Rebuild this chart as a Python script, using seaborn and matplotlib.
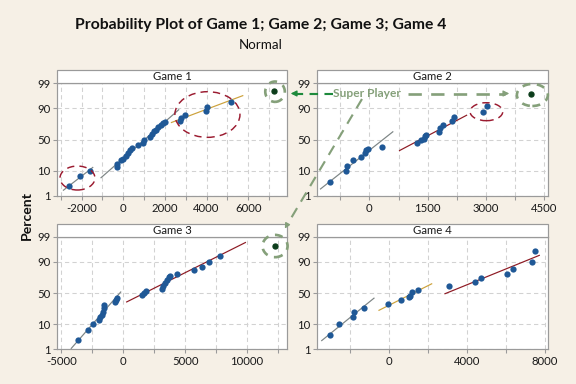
import numpy as np
import pandas as pd
import seaborn as sns
import matplotlib.pyplot as plt
from matplotlib.patches import Ellipse, Rectangle, FancyArrowPatch
from matplotlib.lines import Line2D
from matplotlib.ticker import NullLocator
from statistics import NormalDist

# ---- data (x value, plotted percent) ----
g1_low_x = [-2600, -2100, -1610]
g1_low_pct = [2.7, 6.4, 10.0]
g1_mid_x = [-315, -287, -124, 0, 115, 239, 335, 430, 688, 927, 975,
            1276, 1386, 1482, 1577, 1673, 1802, 1931, 2008]
g1_mid_pct = [13.3, 16.1, 19.6, 21.5, 24.8, 29.4, 33.1, 36.7, 40.3, 44.6, 48.9,
              54.4, 59.2, 63.3, 65.9, 69.2, 72.0, 74.7, 76.5]
g1_high_x = [2710, 2790, 2950, 3987, 4015, 5180]
g1_high_pct = [77.2, 81.2, 84.6, 87.6, 90.9, 94.1]

g2_low_x = [-1016, -589, -573, -420, -205, -120, -77, -36, 323]
g2_low_pct = [3.9, 9.4, 13.8, 19.6, 24.0, 28.4, 32.7, 34.2, 37.7]
g2_high_x = [1219, 1331, 1398, 1434, 1459, 1800, 1818, 1902, 2125, 2171, 2908, 3036]
g2_high_pct = [43.5, 48.4, 51.0, 55.4, 58.0, 62.3, 68.4, 73.0, 77.3, 81.9, 87.1, 91.7]

g3_low_x = [-3675, -2860, -2461, -1998, -1862, -1726, -1662, -1598, -1598, -703, -607, -527]
g3_low_pct = [2.7, 6.4, 10.1, 13.3, 15.8, 18.3, 22.0, 27.3, 31.5, 35.2, 38.6, 42.4]
g3_high_x = [1470, 1654, 1870, 3148, 3196, 3332, 3516, 3675, 3787, 4315, 5673, 6392, 6911, 7830]
g3_high_pct = [47.2, 50.0, 52.6, 56.5, 61.5, 66.0, 70.8, 74.0, 76.1, 78.0, 82.9, 86.0, 90.0, 93.8]

g4_low_x = [-3011, -2555, -1847, -1785, -1267]
g4_low_pct = [4.2, 10.1, 16.0, 21.8, 27.0]
g4_mid_x = [-36, 600, 1026, 1077, 1165, 1503]
g4_mid_pct = [32.5, 38.7, 42.9, 45.6, 51.0, 54.9]
g4_high_x = [3088, 4427, 4720, 6069, 6377, 7351, 7500]
g4_high_pct = [61.8, 67.6, 73.1, 78.3, 83.9, 90.0, 95.8]

# the "super player" in games 1-3
super_x = [7250, 4163, 12230]
super_pct = [97.6, 96.9, 97.4]

game_names = ["Game 1", "Game 2", "Game 3", "Game 4"]
pct_ticks = [1, 10, 50, 90, 99]

# ---- style ----
BG = "#f6f0e6"
PT = "#1f5896"
GRAY_LINE = "#7d8585"
GOLD = "#cda23c"
DARK_RED = "#8e1b24"
SPINE = "#9a9a9a"
GREEN_LIGHT = "#85a07a"
GREEN_DARK = "#1e8a3c"
ELL_RED = "#9b1b30"

plt.rcParams["font.family"] = ["Lato", "DejaVu Sans"]

nd = NormalDist()


def _ppf(p):
    if not np.isfinite(p):
        return np.nan
    return nd.inv_cdf(min(max(p / 100.0, 1e-9), 1 - 1e-9))


def _cdf(z):
    if not np.isfinite(z):
        return np.nan
    return 100.0 * nd.cdf(z)


ppf = np.vectorize(_ppf, otypes=[float])
cdf = np.vectorize(_cdf, otypes=[float])

W, H = 576, 384
fig = plt.figure(figsize=(6, 4), dpi=96, facecolor=BG)


def fpos(px, py):
    return px / W, 1 - py / H


def make_panel(box, title, xlim, grid_ticks, label_ticks):
    l, t, r, b = box
    ax = fig.add_axes([l / W, 1 - b / H, (r - l) / W, (b - t) / H])
    ax.set_facecolor("white")
    ax.set_yscale("function", functions=(ppf, cdf))
    ax.set_ylim(1, 99)
    ax.set_xlim(*xlim)
    ax.set_yticks(pct_ticks)
    ax.set_yticklabels([str(v) for v in pct_ticks])
    ax.yaxis.set_minor_locator(NullLocator())
    ax.set_xticks(grid_ticks)
    ax.set_xticklabels([str(v) if v in label_ticks else "" for v in grid_ticks])
    ax.grid(True, color="#d2d2d2", linestyle=(0, (4, 3)), linewidth=0.8)
    ax.set_axisbelow(True)
    for s in ax.spines.values():
        s.set_color(SPINE)
        s.set_linewidth(0.9)
    ax.tick_params(length=3, width=0.8, color=SPINE, labelsize=8.5,
                   labelcolor="#1a1a1a", pad=2)
    # title strip
    sh = 13 / (b - t)
    ax.add_patch(Rectangle((0, 1), 1, sh, transform=ax.transAxes, clip_on=False,
                           facecolor="white", edgecolor=SPINE, linewidth=0.9, zorder=5))
    ax.text(0.5, 1 + sh / 2, title, transform=ax.transAxes, ha="center",
            va="center", fontsize=8.5, color="#1a1a1a", zorder=6)
    ax.set_xlabel("")
    ax.set_ylabel("")
    return ax


def fit_line(ax, xs, pcts, xr, color):
    z = ppf(np.asarray(pcts, float))
    slope, icpt = np.polyfit(z, np.asarray(xs, float), 1)
    zz = (np.asarray(xr, float) - icpt) / slope
    ax.plot(icpt + slope * zz, cdf(zz), color=color, linewidth=0.9, zorder=2)


def points(ax, xs, pcts):
    df = pd.DataFrame({"x": xs, "pct": pcts})
    sns.scatterplot(data=df, x="x", y="pct", ax=ax, color=PT, s=22,
                    linewidth=0, zorder=3, legend=False)
    ax.set_xlabel("")
    ax.set_ylabel("")


boxes = [(57, 83, 287, 196), (317.3, 83, 548.3, 196),
         (57, 236.7, 287, 349.3), (317, 236.7, 548, 349.3)]

ax1 = make_panel(boxes[0], game_names[0], (-3180, 7860),
                 list(range(-3000, 7001, 1000)), [-2000, 0, 2000, 4000, 6000])
ax2 = make_panel(boxes[1], game_names[1], (-1336, 4598),
                 list(range(-750, 4501, 750)), [0, 1500, 3000, 4500])
ax3 = make_panel(boxes[2], game_names[2], (-5355, 13220),
                 list(range(-5000, 12501, 2500)), [-5000, 0, 5000, 10000])
ax4 = make_panel(boxes[3], game_names[3], (-3694, 8157),
                 list(range(-2000, 8001, 2000)), [0, 4000, 8000])

groups = [
    (ax1, g1_low_x, g1_low_pct, (-2870, -1464), GRAY_LINE),
    (ax1, g1_mid_x, g1_mid_pct, (-1066, 2662), GRAY_LINE),
    (ax1, g1_high_x, g1_high_pct, (2313, 5736), GOLD),
    (ax2, g2_low_x, g2_low_pct, (-1254, 604), GRAY_LINE),
    (ax2, g2_high_x, g2_high_pct, (776, 2499), DARK_RED),
    (ax3, g3_low_x, g3_low_pct, (-4203, -208), GRAY_LINE),
    (ax3, g3_high_x, g3_high_pct, (272, 9860), DARK_RED),
    (ax4, g4_low_x, g4_low_pct, (-3453, -770), GRAY_LINE),
    (ax4, g4_mid_x, g4_mid_pct, (-513, 2190), GOLD),
    (ax4, g4_high_x, g4_high_pct, (2873, 7710), DARK_RED),
]
for ax, xs, ps, xr, col in groups:
    fit_line(ax, xs, ps, xr, col)
    points(ax, xs, ps)

for ax in (ax1, ax2, ax3, ax4):
    ax.set_ylim(1, 99)

# super player dots + dashed green circles
for ax, sx, sp, (cx, cy, w, h) in zip(
        (ax1, ax2, ax3), super_x, super_pct,
        [(0.948, 0.923, 0.085, 0.18), (0.931, 0.894, 0.134, 0.195),
         (0.948, 0.917, 0.109, 0.198)]):
    ax.scatter([sx], [sp], color="#0c3d1b", s=14, zorder=8, clip_on=False)
    ax.add_patch(Ellipse((cx, cy), w, h, transform=ax.transAxes, fill=False,
                         edgecolor=GREEN_LIGHT, linewidth=2, linestyle=(0, (3, 2.5)),
                         clip_on=False, zorder=7))

# red dashed ellipses marking outlying groups
for ax, (cx, cy, w, h) in [(ax1, (0.089, 0.159, 0.152, 0.212)),
                           (ax1, (0.654, 0.721, 0.283, 0.404)),
                           (ax2, (0.732, 0.746, 0.1415, 0.159))]:
    ax.add_patch(Ellipse((cx, cy), w, h, transform=ax.transAxes, fill=False,
                         edgecolor=ELL_RED, linewidth=1.1, linestyle=(0, (5, 3.5)),
                         clip_on=False, zorder=6))

# "Super Player" label and its arrows
fig.text(*fpos(367, 93.5), "Super Player", ha="center", va="center",
         fontsize=9, fontweight="bold", color=GREEN_LIGHT)
fig.add_artist(Line2D(*zip(fpos(408, 93.5), fpos(505, 93.5)), transform=fig.transFigure,
                      color=GREEN_LIGHT, linewidth=2, linestyle=(0, (5, 3.5))))
fig.add_artist(FancyArrowPatch(fpos(503, 93.5), fpos(512, 93.5), transform=fig.transFigure,
                               arrowstyle="-|>", mutation_scale=9, color=GREEN_LIGHT,
                               linewidth=1))
fig.add_artist(Line2D(*zip(fpos(333, 93.5), fpos(296, 93.5)), transform=fig.transFigure,
                      color=GREEN_DARK, linewidth=1.6, linestyle=(0, (4, 3))))
fig.add_artist(FancyArrowPatch(fpos(298, 93.5), fpos(288, 93.5), transform=fig.transFigure,
                               arrowstyle="-|>", mutation_scale=9, color=GREEN_DARK,
                               linewidth=1))
fig.add_artist(Line2D(*zip(fpos(362, 99), fpos(287, 225)), transform=fig.transFigure,
                      color=GREEN_LIGHT, linewidth=1.6, linestyle=(0, (5, 3.5))))
fig.add_artist(FancyArrowPatch(fpos(288, 223), fpos(283.5, 231), transform=fig.transFigure,
                               arrowstyle="-|>", mutation_scale=8, color=GREEN_LIGHT,
                               linewidth=1))

fig.text(*fpos(261, 25), "Probability Plot of Game 1; Game 2; Game 3; Game 4",
         ha="center", va="center", fontsize=11.8, fontweight="bold", color="#111111")
fig.text(*fpos(261, 45), "Normal", ha="center", va="center", fontsize=10,
         color="#111111")
fig.text(*fpos(27, 215), "Percent", ha="center", va="center", rotation=90,
         fontsize=10.5, fontweight="bold", color="#111111")

fig.savefig("out.png", dpi=96, facecolor=BG)
